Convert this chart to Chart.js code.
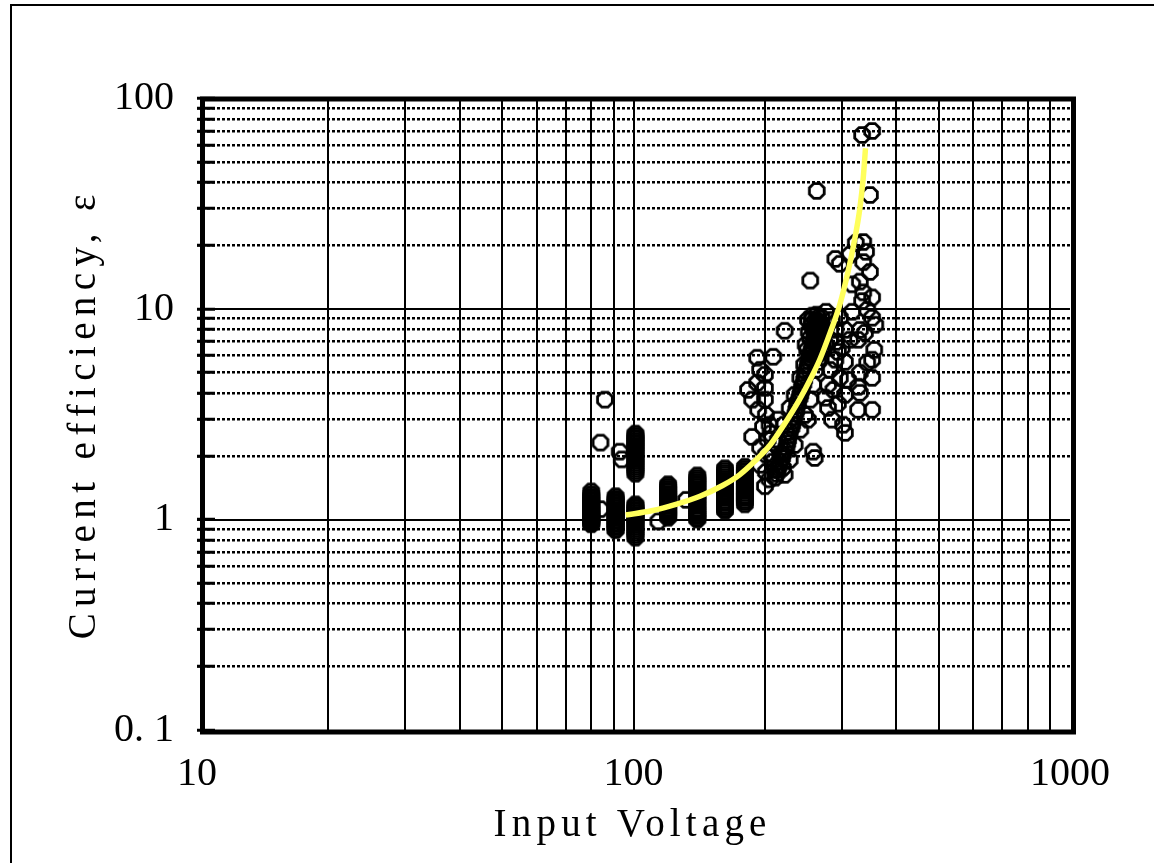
<!DOCTYPE html>
<html>
<head>
<meta charset="utf-8">
<script src="https://cdn.jsdelivr.net/npm/chart.js@4.4.1/dist/chart.umd.min.js"></script>
<style>
  html, body { margin: 0; padding: 0; background: #fff; }
  canvas { display: block; }
</style>
</head>
<body>
<canvas id="chart" width="1154" height="863"></canvas>
<script>
// ---- Data ---------------------------------------------------------------

// Fixed-voltage runs: each voltage has a column of efficiency readings.
const columnVoltage = [80, 91, 101, 120, 140, 162, 180];
const columnEfficiency = [
  [1.36, 1.32, 1.29, 1.27, 1.25, 1.23, 1.21, 1.19, 1.17, 1.16, 1.14, 1.13, 1.11, 1.1, 1.09, 1.07,
   1.06, 1.05, 1.04, 1.03, 1.02, 1.01, 1.0, 0.99, 0.98, 0.97, 0.96, 0.95],
  [1.29, 1.26, 1.24, 1.22, 1.2, 1.18, 1.16, 1.14, 1.12, 1.1, 1.08, 1.07, 1.05, 1.04, 1.02, 1.01,
   0.99, 0.98, 0.96, 0.95, 0.93, 0.92, 0.9, 0.89],
  [2.56, 2.51, 2.46, 2.42, 2.37, 2.33, 2.29, 2.25, 2.21, 2.17, 2.13, 2.09, 2.05, 2.01, 1.97, 1.93,
   1.89, 1.85, 1.81, 1.77, 1.73, 1.69, 1.65,
   1.18, 1.16, 1.14, 1.12, 1.1, 1.08, 1.06, 1.04, 1.03, 1.01, 1.0, 0.98, 0.96, 0.94, 0.92, 0.9,
   0.88, 0.86, 0.84, 0.82],
  [1.47, 1.44, 1.41, 1.38, 1.36, 1.33, 1.31, 1.29, 1.27, 1.25, 1.23, 1.21, 1.19, 1.17, 1.15, 1.13,
   1.11, 1.09, 1.07, 1.05, 1.04, 1.02],
  [1.62, 1.58, 1.55, 1.52, 1.49, 1.46, 1.43, 1.4, 1.37, 1.34, 1.31, 1.29, 1.26, 1.23, 1.21, 1.18,
   1.16, 1.13, 1.11, 1.09, 1.07, 1.05, 1.03, 1.01, 1.0],
  [1.75, 1.71, 1.67, 1.64, 1.6, 1.57, 1.54, 1.51, 1.48, 1.45, 1.42, 1.39, 1.36, 1.33, 1.31, 1.28,
   1.26, 1.23, 1.21, 1.19, 1.16, 1.14, 1.12, 1.1],
  [1.78, 1.74, 1.7, 1.66, 1.63, 1.6, 1.56, 1.53, 1.5, 1.47, 1.44, 1.41, 1.38, 1.36, 1.33, 1.3,
   1.28, 1.26, 1.23, 1.21, 1.18]
];

// Individual readings.
const pointVoltage = [
  84, 84, 86, 93, 94, 114, 132,
  192, 209, 195, 200, 192, 200, 183, 187, 200, 193, 201, 198, 205, 187, 203, 195, 201, 208,
  195, 201, 205, 200, 211, 217, 220, 212, 206, 214, 222,
  211, 214, 217, 220, 224, 226, 228, 231, 233, 236, 238, 241, 243, 246, 248, 251, 254, 256,
  259, 260, 262, 263, 265,
  213, 216, 219, 222, 225, 227, 230, 232, 235, 237, 240, 242, 245, 247, 250, 252, 255, 257,
  260, 261, 263, 264,
  222, 228, 234, 241, 247, 254, 258, 262, 265, 267, 270, 270,
  208, 214, 221, 228, 234, 241, 246, 250, 254, 256,
  251, 256, 260, 267, 273, 276, 270, 265, 256, 248, 252, 262,
  258, 262, 266, 268, 271, 264, 258, 253, 260, 268, 272, 275, 263, 257, 269, 265,
  251, 258, 260, 275, 279, 282, 290, 294, 282, 291, 300, 305, 297, 287, 279, 294, 305, 310,
  285, 302, 305, 276, 285, 290, 297, 305,
  323, 336, 341, 336, 348, 330, 336, 352, 334, 343, 352, 330, 339, 327, 352, 343, 330, 352,
  327, 330, 352, 327, 313, 317, 317, 313, 358, 356,
  334, 352, 263, 348, 254, 290, 297
];
const pointEfficiency = [
  1.12, 2.32, 3.71, 2.1, 1.93, 0.98, 1.24,
  5.87, 5.93, 5.14, 4.87, 4.46, 4.22, 4.13, 3.71, 3.71, 3.32, 3.14, 2.76, 2.82, 2.47, 2.39, 2.2, 2.04, 1.88,
  1.82, 1.68, 1.55, 1.44, 1.72, 2.04, 1.76, 2.26, 2.56, 2.98, 7.88,
  1.58, 1.72, 1.88, 2.04, 2.2, 2.39, 2.61, 2.82, 3.05, 3.32, 3.63, 3.91, 4.22, 4.61, 5.03, 5.44, 5.87, 6.4,
  6.91, 7.46, 7.96, 8.51, 9.09,
  1.65, 1.8, 1.96, 2.12, 2.3, 2.5, 2.72, 2.93, 3.18, 3.48, 3.77, 4.06, 4.4, 4.82, 5.23, 5.65, 6.1, 6.65,
  7.2, 7.7, 8.2, 8.8,
  1.63, 1.92, 2.26, 2.67, 3.14, 3.71, 4.37, 5.14, 6.06, 7.14, 8.14, 9.09,
  2.04, 2.39, 2.82, 3.39, 3.91, 4.71, 5.44, 6.4, 7.3, 8.42,
  8.89, 8.89, 8.7, 8.42, 7.79, 6.76, 6.4, 5.61, 5.74, 6.76, 7.79, 7.14,
  8.0, 7.6, 7.8, 7.5, 7.2, 6.9, 6.3, 6.1, 6.0, 5.9, 6.9, 8.0, 9.4, 9.3, 8.6, 8.3,
  2.98, 2.1, 1.96, 3.79, 4.37, 5.14, 5.74, 6.26, 7.14, 6.98, 6.54, 5.61, 4.71, 4.13, 3.39, 3.55, 3.91, 4.61,
  2.98, 2.82, 2.58, 9.7, 8.89, 7.96, 9.09, 7.96,
  20.6, 20.8, 18.7, 16.7, 15.0, 13.5, 12.0, 11.35, 10.9, 9.91, 9.09, 7.96, 7.71, 7.14, 5.74, 5.56, 4.98, 4.71,
  4.27, 4.0, 3.32, 3.32, 18.1, 13.1, 9.7, 7.14, 8.42, 6.4,
  67.1, 70.1, 36.4, 34.8, 13.65, 17.3, 16.4
];

// Fitted trend curve.
const fitVoltage    = [96, 110, 125, 142, 160, 175, 190, 206, 222, 240, 255, 267, 282, 297, 310, 321, 330, 336, 340];
const fitEfficiency = [1.05, 1.1, 1.18, 1.29, 1.45, 1.63, 1.9, 2.27, 2.85, 3.71, 4.7, 5.74, 7.7, 10.5, 15, 21.3, 30, 42, 58];

// Axis ticks and labels.
const xTickValues  = [10, 20, 30, 40, 50, 60, 70, 80, 90, 100, 200, 300, 400, 500, 600, 700, 800, 900, 1000];
const xMajorTicks  = [10, 100, 1000];
const xMajorLabels = ['10', '100', '1000'];
const yTickValues  = [0.1, 0.2, 0.3, 0.4, 0.5, 0.6, 0.7, 0.8, 0.9, 1, 2, 3, 4, 5, 6, 7, 8, 9, 10,
                      20, 30, 40, 50, 60, 70, 80, 90, 100];
const yMajorTicks  = [0.1, 1, 10, 100];
const yMajorLabels = ['0. 1', '1', '10', '100'];

const xTitle = 'Input Voltage';
const yTitle = 'Current efficiency, \u03b5';

// ---- Helpers ------------------------------------------------------------

const SERIF = '"Liberation Serif", "DejaVu Serif", serif';

// Open octagonal marker used for every measured point.
function makeOctagon(r, lw) {
  const size = 24;
  const c = document.createElement('canvas');
  c.width = size; c.height = size;
  const g = c.getContext('2d');
  g.strokeStyle = '#000';
  g.lineWidth = lw;
  g.lineJoin = 'miter';
  g.beginPath();
  for (let k = 0; k < 8; k++) {
    const a = Math.PI / 8 + k * Math.PI / 4;
    const px = size / 2 + r * Math.cos(a), py = size / 2 + r * Math.sin(a);
    if (k === 0) g.moveTo(px, py); else g.lineTo(px, py);
  }
  g.closePath();
  g.stroke();
  return c;
}

function isIn(list, v) {
  return list.some(t => Math.abs(t - v) < 1e-9);
}
function labelFor(majors, labels, v) {
  const i = majors.findIndex(t => Math.abs(t - v) < 1e-9);
  return i >= 0 ? labels[i] : '';
}

// Draws text with even per-letter spacing so it spans the given width.
function drawSpaced(ctx, text, width) {
  const hasLS = 'letterSpacing' in ctx;
  if (hasLS) ctx.letterSpacing = '0px';
  const w0 = ctx.measureText(text).width;
  ctx.textAlign = 'left';
  if (hasLS) {
    const ls = (width - w0) / text.length;
    ctx.letterSpacing = ls + 'px';
    ctx.fillText(text, -width / 2 + ls / 2, 0);
    ctx.letterSpacing = '0px';
  } else {
    ctx.fillText(text, -w0 / 2, 0);
  }
}

// ---- Build datasets -----------------------------------------------------

const measured = [];
columnVoltage.forEach((v, i) => {
  columnEfficiency[i].forEach(e => measured.push({ x: v, y: e }));
});
pointVoltage.forEach((v, i) => measured.push({ x: v, y: pointEfficiency[i] }));

const fitLine = fitVoltage.map((v, i) => ({ x: v, y: fitEfficiency[i] }));

// ---- Page decorations: outer border, plot frame, axis titles -------------

const decorations = {
  id: 'decorations',
  beforeDraw(chart) {
    const ctx = chart.ctx;
    ctx.save();
    ctx.fillStyle = '#fff';
    ctx.fillRect(0, 0, chart.width, chart.height);
    ctx.fillStyle = '#000';
    ctx.fillRect(10, 4, 2, chart.height - 4);
    ctx.fillRect(10, 4, chart.width - 10, 2);
    ctx.restore();
  },
  afterDraw(chart) {
    const ctx = chart.ctx;
    const a = chart.chartArea;
    ctx.save();
    ctx.strokeStyle = '#000';
    ctx.lineWidth = 5;
    ctx.strokeRect(a.left + 5.5, a.top + 0.5, a.right - a.left - 2, a.bottom - a.top + 1.5);

    ctx.fillStyle = '#000';
    ctx.font = '39px ' + SERIF;
    ctx.textBaseline = 'alphabetic';

    ctx.save();
    ctx.translate(630, 836);
    drawSpaced(ctx, xTitle, 278);
    ctx.restore();

    ctx.save();
    ctx.translate(95, 417);
    ctx.rotate(-Math.PI / 2);
    drawSpaced(ctx, yTitle, 451);
    ctx.restore();

    ctx.restore();
  }
};

// ---- Chart --------------------------------------------------------------

Chart.defaults.color = '#000';
Chart.defaults.font.family = SERIF;

new Chart(document.getElementById('chart'), {
  type: 'scatter',
  data: {
    datasets: [
      {
        label: 'fit',
        data: fitLine,
        showLine: true,
        borderColor: '#ffff5c',
        borderWidth: 5.5,
        pointRadius: 0,
        fill: false,
        cubicInterpolationMode: 'monotone',
        order: 0
      },
      {
        label: 'measured',
        data: measured,
        pointStyle: makeOctagon(8, 2.8),
        pointRadius: 8,
        showLine: false,
        order: 1
      }
    ]
  },
  options: {
    responsive: false,
    animation: false,
    events: [],
    layout: { padding: { top: 98.5, right: 84, bottom: 0, left: 0 } },
    plugins: { legend: { display: false }, tooltip: { enabled: false } },
    scales: {
      x: {
        type: 'logarithmic',
        position: 'bottom',
        min: 10,
        max: 1000,
        afterBuildTicks: s => { s.ticks = xTickValues.map(v => ({ value: v })); },
        afterFit: s => { s.height = 133; },
        border: { display: false },
        grid: {
          color: c => (c.tick && (c.tick.value === 10 || c.tick.value === 1000)) ? 'rgba(0,0,0,0)' : '#000',
          lineWidth: 2,
          drawTicks: false
        },
        ticks: {
          autoSkip: false,
          maxRotation: 0,
          padding: 20,
          font: { size: 40, family: SERIF },
          color: '#000',
          callback: v => labelFor(xMajorTicks, xMajorLabels, v)
        }
      },
      y: {
        type: 'logarithmic',
        position: 'left',
        min: 0.1,
        max: 100,
        afterBuildTicks: s => { s.ticks = yTickValues.map(v => ({ value: v })); },
        afterFit: s => { s.width = 197; },
        border: { display: false, dash: [3, 2] },
        grid: {
          color: c => (c.tick && isIn(yMajorTicks, c.tick.value)) ? 'rgba(0,0,0,0)' : '#000',
          lineWidth: 2.5,
          drawTicks: true,
          tickLength: -18,
          tickWidth: 3,
          tickColor: '#000'
        },
        ticks: {
          autoSkip: false,
          padding: 41,
          font: { size: 40, family: SERIF },
          color: '#000',
          callback: v => labelFor(yMajorTicks, yMajorLabels, v)
        }
      },
      yMajor: {
        type: 'logarithmic',
        position: 'left',
        min: 0.1,
        max: 100,
        afterBuildTicks: s => { s.ticks = [1, 10].map(v => ({ value: v })); },
        afterFit: s => { s.width = 0; },
        border: { display: false },
        grid: { color: '#000', lineWidth: 2, drawTicks: false },
        ticks: { display: false }
      }
    }
  },
  plugins: [decorations]
});
</script>
</body>
</html>
